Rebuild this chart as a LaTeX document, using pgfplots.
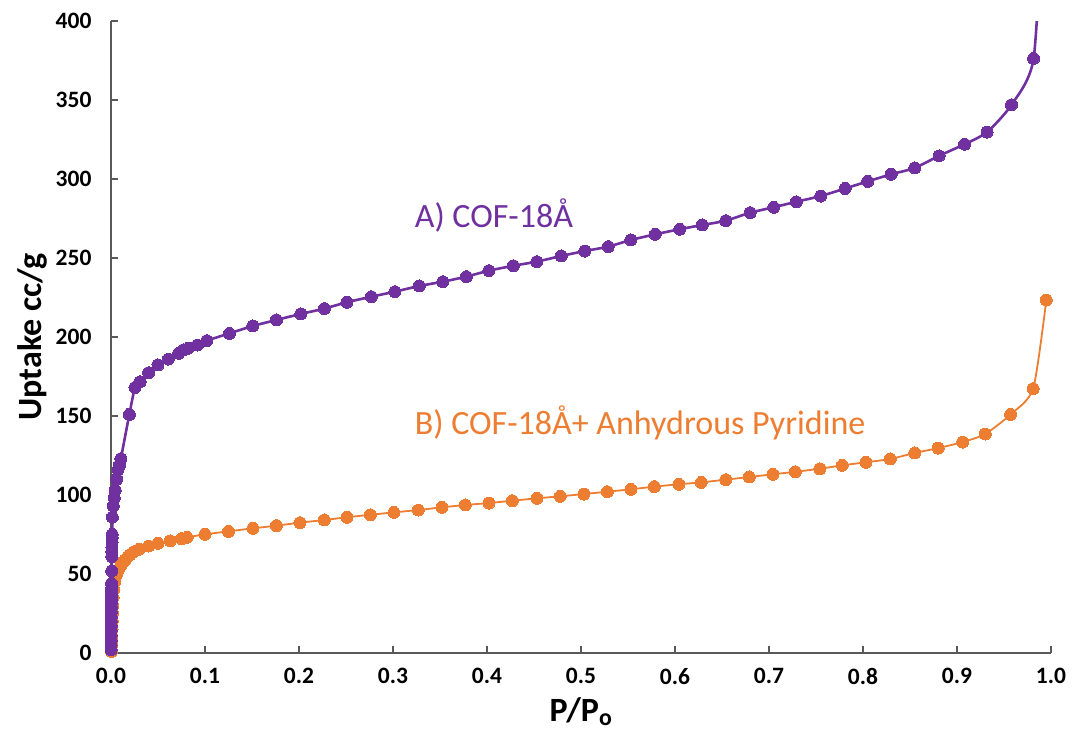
\documentclass[border=0pt]{standalone}
\usepackage{fontspec}
\setmainfont{Carlito}
\usepackage{pgfplots}
\pgfplotsset{compat=1.18}
\definecolor{cpurple}{HTML}{7030A0}
\definecolor{corange}{HTML}{ED7D31}
\definecolor{caxis}{HTML}{595959}
\begin{document}
\begin{tikzpicture}
\useasboundingbox (-111pt,-87pt) rectangle (962pt,653pt);
\begin{axis}[
  at={(0,0)}, anchor=south west,
  scale only axis,
  width=940pt, height=632pt,
  xmin=0, xmax=1, ymin=0, ymax=400,
  axis x line=bottom, axis y line=left,
  axis line style={draw=caxis, line width=1.6pt, -},
  tick align=inside, major tick length=7pt,
  tick style={draw=caxis, line width=1.4pt},
  xtick={0,0.1,...,1.0}, ytick={0,50,...,400},
  /pgf/number format/assume math mode=true,
  xticklabel style={/pgf/number format/fixed, /pgf/number format/fixed zerofill, /pgf/number format/precision=1, yshift=-12pt},
  yticklabel style={/pgf/number format/fixed, xshift=-16pt},
  tick label style={font=\fontsize{23.5}{23.5}\selectfont\bfseries, text=black},
  xlabel={P/P\textsubscript{o}},
  ylabel={Uptake cc/g},
  label style={font=\fontsize{34}{34}\selectfont\bfseries},
  xlabel style={yshift=-6pt},
  ylabel style={yshift=2pt},
  clip=true,
]
\addplot[color=corange, line width=1.8pt, smooth, tension=0.4, mark=*, mark size=6pt, mark options={fill=corange, draw=corange, line width=0pt}] coordinates {
(0.0005,1) (0.0008,5) (0.0010,10) (0.0012,15) (0.0014,20) (0.0016,25) (0.0018,30) (0.0022,35) (0.0028,40) (0.0038,45)
(0.006,50) (0.008,53) (0.011,55.7) (0.013,57.5) (0.015,59) (0.018,61) (0.020,62) (0.024,64) (0.030,65.6) (0.040,67.7)
(0.050,69.4) (0.063,71) (0.075,72.4) (0.081,73.2) (0.100,75.1) (0.125,77) (0.151,78.9) (0.176,80.6) (0.201,82.5) (0.227,84.2)
(0.251,85.9) (0.276,87.5) (0.301,89) (0.327,90.5) (0.352,92.2) (0.377,93.7) (0.402,94.9) (0.427,96.4) (0.453,97.9) (0.478,99.2)
(0.503,100.6) (0.528,102.1) (0.553,103.6) (0.578,105.3) (0.604,106.8) (0.628,108) (0.654,109.7) (0.679,111.4) (0.704,113.1) (0.728,114.7)
(0.754,116.6) (0.778,118.8) (0.803,120.7) (0.829,122.8) (0.855,126.6) (0.880,129.7) (0.906,133.5) (0.930,138.6) (0.957,151) (0.981,167.3)
(0.995,223.4)
};
\addplot[color=cpurple, line width=2.6pt, smooth, tension=0.4, mark=*, mark size=6pt, mark options={fill=cpurple, draw=cpurple, line width=0pt}] coordinates {
(0.0001,2) (0.0001,5) (0.0002,8) (0.0002,11) (0.0002,14) (0.0003,17) (0.0003,20) (0.0003,23) (0.0004,26) (0.0004,29)
(0.0004,32) (0.0005,35) (0.0005,38) (0.0006,41) (0.0006,44) (0.0008,52) (0.0009,61) (0.0010,64) (0.0010,67) (0.0011,70)
(0.0012,73) (0.0013,75) (0.0015,86) (0.0025,93) (0.0035,98) (0.0045,103) (0.0060,110) (0.0075,116) (0.0090,119) (0.0105,123)
(0.0195,151) (0.0255,168) (0.031,171.7) (0.040,177.4) (0.050,182.3) (0.061,186) (0.072,189.7) (0.077,191.8) (0.082,192.8) (0.092,194.9)
(0.102,197.7) (0.126,202.3) (0.151,207) (0.176,210.8) (0.202,214.6) (0.227,218) (0.251,222) (0.277,225.5) (0.302,228.7) (0.328,232.3)
(0.353,235) (0.378,238.2) (0.402,242) (0.428,245.1) (0.453,247.7) (0.479,251.3) (0.504,254.4) (0.529,257.2) (0.553,261.4) (0.579,265)
(0.605,268.2) (0.629,270.9) (0.654,273.6) (0.680,278.7) (0.705,282.1) (0.729,285.6) (0.755,289.2) (0.781,294) (0.805,298.5) (0.830,303)
(0.855,307) (0.881,314.7) (0.908,322) (0.932,329.7) (0.958,347) (0.9815,376.3) (0.992,480)
};
\node[anchor=west, text=cpurple, font=\fontsize{34}{34}\selectfont, inner sep=0pt] at (axis cs:0.323,277) {A) COF-18Å};
\node[anchor=west, text=corange, font=\fontsize{34}{34}\selectfont, inner sep=0pt] at (axis cs:0.323,145.6) {B) COF-18Å+ Anhydrous Pyridine};
\end{axis}
\end{tikzpicture}
\end{document}
